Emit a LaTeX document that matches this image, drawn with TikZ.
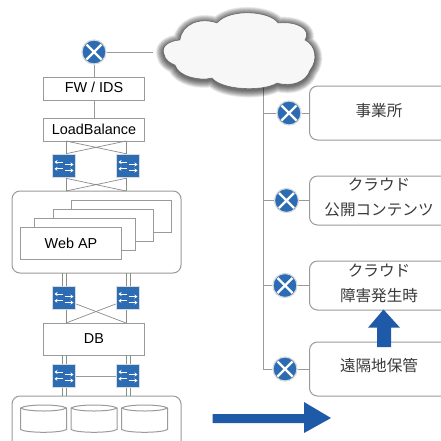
\documentclass[tikz,border=0pt]{standalone}
\usepackage{fontspec}
\setmainfont{Liberation Sans}
\newfontfamily\cjk{Noto Sans CJK JP}
\usetikzlibrary{arrows.meta}
\definecolor{netblue}{HTML}{2B6CB5}
\definecolor{arrowblue}{HTML}{1F5AA8}
\definecolor{linegray}{HTML}{9A9A9A}
\definecolor{thingray}{HTML}{8C8C8C}
\definecolor{jptext}{HTML}{3A3A3A}
\tikzset{
  wire/.style={draw=linegray,line width=1pt},
  thinwire/.style={draw=thingray,line width=0.7pt},
  boxnode/.style={draw=linegray,line width=1pt,fill=white,inner sep=0pt,text=black,font=\fontsize{14.4}{16}\selectfont},
  group/.style={draw=linegray,line width=1pt,rounded corners=8pt,fill=white},
  sitebox/.style={draw=linegray,line width=1pt,rounded corners=8pt,fill=white},
  jplabel/.style={text=jptext,font=\fontsize{15.6}{18}\cjk\selectfont,inner sep=0pt},
  cyl/.style={draw=linegray,line width=1pt,fill=white},
  router/.style={circle,draw=black!15,line width=1.2pt,fill=netblue,minimum size=24pt,inner sep=0pt,
    path picture={
      \draw[white,line width=2.2pt]
        ([shift={(-7.5pt,-7.5pt)}]path picture bounding box.center) -- ([shift={(7.5pt,7.5pt)}]path picture bounding box.center)
        ([shift={(-7.5pt,7.5pt)}]path picture bounding box.center) -- ([shift={(7.5pt,-7.5pt)}]path picture bounding box.center);
    }},
  switch/.style={rectangle,draw=black!14,line width=1.6pt,fill=netblue,minimum size=23pt,inner sep=0pt,
    path picture={
      \foreach \yy in {-4.5,1.5}{
        \draw[white,line width=1pt,-{Stealth[length=3pt,width=4pt]}]
          ([shift={(0.5pt,\yy pt)}]path picture bounding box.center) -- ([shift={(9.5pt,\yy pt)}]path picture bounding box.center);}
      \foreach \yy in {-2.8,4}{
        \draw[white,line width=1pt,-{Stealth[length=3pt,width=4pt]}]
          ([shift={(-1pt,\yy pt)}]path picture bounding box.center) -- ([shift={(-9.5pt,\yy pt)}]path picture bounding box.center);}
    }},
}
\newcommand{\cylinderdraw}[2]{%
  \path[cyl] (#1,408) .. controls (#1+6,404) and (#2-6,404) .. (#2,408)
     -- (#2,429.5) .. controls (#2-6,433.2) and (#1+6,433.2) .. (#1,429.5) -- cycle;
  \path[cyl,fill=none] (#1,408) .. controls (#1+6,412) and (#2-6,412) .. (#2,408);
}
\newcommand{\cloudpath}{
  (180,40) .. controls (168,41) and (161,47) .. (164,54)
  .. controls (165,60) and (170,63) .. (175,65)
  .. controls (179,77) and (200,81) .. (212,78)
  .. controls (222,90) and (262,92) .. (277,83)
  .. controls (292,87) and (306,82) .. (310,70)
  .. controls (318,60) and (316,46) .. (305,40)
  .. controls (312,29) and (296,21) .. (278,23)
  .. controls (270,11) and (230,8) .. (217,23)
  .. controls (200,17) and (182,24) .. (180,40) -- cycle
}
\begin{document}
\begin{tikzpicture}[x=1pt,y=-1pt]
\useasboundingbox (0,0) rectangle (441,440);
\clip (0,0) rectangle (441,440);
\fill[white] (0,0) rectangle (441,440);

\coordinate (cloudS) at (263,85);
\coordinate (trunkEnd) at (263,369);

% site boxes
\node[sitebox,minimum width=160pt,minimum height=54pt,anchor=west,inner sep=0pt] (siteA) at (309,113) {};
\node[sitebox,minimum width=160pt,minimum height=49pt,anchor=west,inner sep=0pt] (siteB) at (309,200.5) {};
\node[sitebox,minimum width=160pt,minimum height=49pt,anchor=west,inner sep=0pt] (siteC) at (309,285.5) {};
\node[sitebox,minimum width=160pt,minimum height=54pt,anchor=west,inner sep=0pt] (siteD) at (309,369) {};
\node[jplabel] (tA) at (379,110.5) {事業所};
\node[jplabel] (tB1) at (379,184.7) {クラウド};
\node[jplabel] (tB2) at (379,209.5) {公開コンテンツ};
\node[jplabel] (tC1) at (379,270.7) {クラウド};
\node[jplabel] (tC2) at (379,295.5) {障害発生時};
\node[jplabel] (tD) at (379,365.5) {遠隔地保管};

\node[router] (rA) at (289,113) {};
\node[router] (rB) at (286.5,200.5) {};
\node[router] (rC) at (285,285.5) {};
\node[router] (rD) at (285,369) {};

\draw[wire] (cloudS) -- (trunkEnd);
\foreach \r/\s in {rA/siteA,rB/siteB,rC/siteC,rD/siteD}{
  \draw[wire] (\r) -- (\s);
  \draw[wire] (\r) -- (\r -| cloudS);
}

% cloud with soft shadow
\foreach \w in {15,14,...,1}{
  \draw[black,opacity=0.05,line width=\w pt,line join=round,shift={(0,1.5)}] \cloudpath;
}
\fill[black!3] \cloudpath;
\draw[black,opacity=0.4,line width=0.6pt] \cloudpath;

% nodes, left column
\node[router] (r0) at (94,52) {};
\coordinate (gap) at (153,52);
\node[boxnode,minimum width=101pt,minimum height=23pt] (fw) at (94,88.5) {\raisebox{2.5pt}{FW / IDS}};
\node[boxnode,minimum width=101pt,minimum height=23pt] (lb) at (94,129.5) {LoadBalance};
\node[switch] (s1) at (64,166) {};
\node[switch] (s2) at (128,166) {};

\draw[group] (12,191) rectangle (181,273);
\foreach \a/\b/\c/\d in {71.5/200/171.5/232,53/209/153/241,34.5/218/135.5/250}{
  \draw[wire,fill=white] (\a,\b) rectangle (\c,\d);}
\node[boxnode,minimum width=101pt,minimum height=32pt] (web) at (71,243) {\raisebox{-1pt}{Web AP}};

\node[switch] (s3) at (64,298) {};
\node[switch] (s4) at (128,298) {};
\node[boxnode,minimum width=101pt,minimum height=32pt] (db) at (94,339) {\raisebox{-1pt}{DB}};
\node[switch] (s5) at (64,376) {};
\node[switch] (s6) at (128,376) {};

\draw[group] (12,396) rectangle (181,452);
\cylinderdraw{20.5}{66.5}
\cylinderdraw{71}{117}
\cylinderdraw{121.5}{167.5}

% named ports on the group boxes
\coordinate (lbL) at (66,141);
\coordinate (lbR) at (126,141);
\coordinate (gtL) at (66,191);
\coordinate (gtR) at (126,191);
\coordinate (dbL) at (66,323);
\coordinate (dbR) at (126,323);

% connectors, left column
\draw[wire] (r0) -- (gap);
\draw[wire] (r0) -- (fw);
\draw[wire] (fw) -- (lb);
\draw[thinwire] (lbL) -- ([xshift=2pt]s1.north) (lbR) -- ([xshift=-2pt]s2.north);
\draw[thinwire] (lbL) -- ([xshift=-2pt]s2.north) (lbR) -- ([xshift=2pt]s1.north);
\draw[thinwire] ([xshift=2pt]s1.south) -- (gtL) ([xshift=-2pt]s2.south) -- (gtR);
\draw[thinwire] ([xshift=2pt]s1.south) -- (gtR) ([xshift=-2pt]s2.south) -- (gtL);
\foreach \o in {-2,2}{
  \draw[thinwire] ([xshift=\o pt]s3.north) -- ([xshift=\o pt]s3.north |- 0,273);
  \draw[thinwire] ([xshift=\o pt]s4.north) -- ([xshift=\o pt]s4.north |- 0,273);
  \draw[thinwire] ([xshift=\o pt]s5.north) -- ([xshift=\o pt]s5.north |- 0,355);
  \draw[thinwire] ([xshift=\o pt]s6.north) -- ([xshift=\o pt]s6.north |- 0,355);
  \draw[thinwire] ([xshift=\o pt]s5.south) -- ([xshift=\o pt]s5.south |- 0,396);
  \draw[thinwire] ([xshift=\o pt]s6.south) -- ([xshift=\o pt]s6.south |- 0,396);
}
\draw[thinwire] ([xshift=2pt]s3.south) -- (dbL) ([xshift=-2pt]s4.south) -- (dbR);
\draw[thinwire] ([yshift=-6pt]s3.east) -- (dbR);
\draw[thinwire] ([yshift=-6pt]s4.west) -- (dbL);
\draw[wire] (s5) -- (s6);

% blue block arrows
\fill[arrowblue] (377,347) -- (377,327.7) -- (368,327.7) -- (383.5,309.5) -- (400,327.7) -- (391,327.7) -- (391,347) -- cycle;
\fill[arrowblue] (212.7,414) -- (304,414) -- (304,402) -- (331,418) -- (304,433) -- (304,423) -- (212.7,423) -- cycle;
\end{tikzpicture}
\end{document}
